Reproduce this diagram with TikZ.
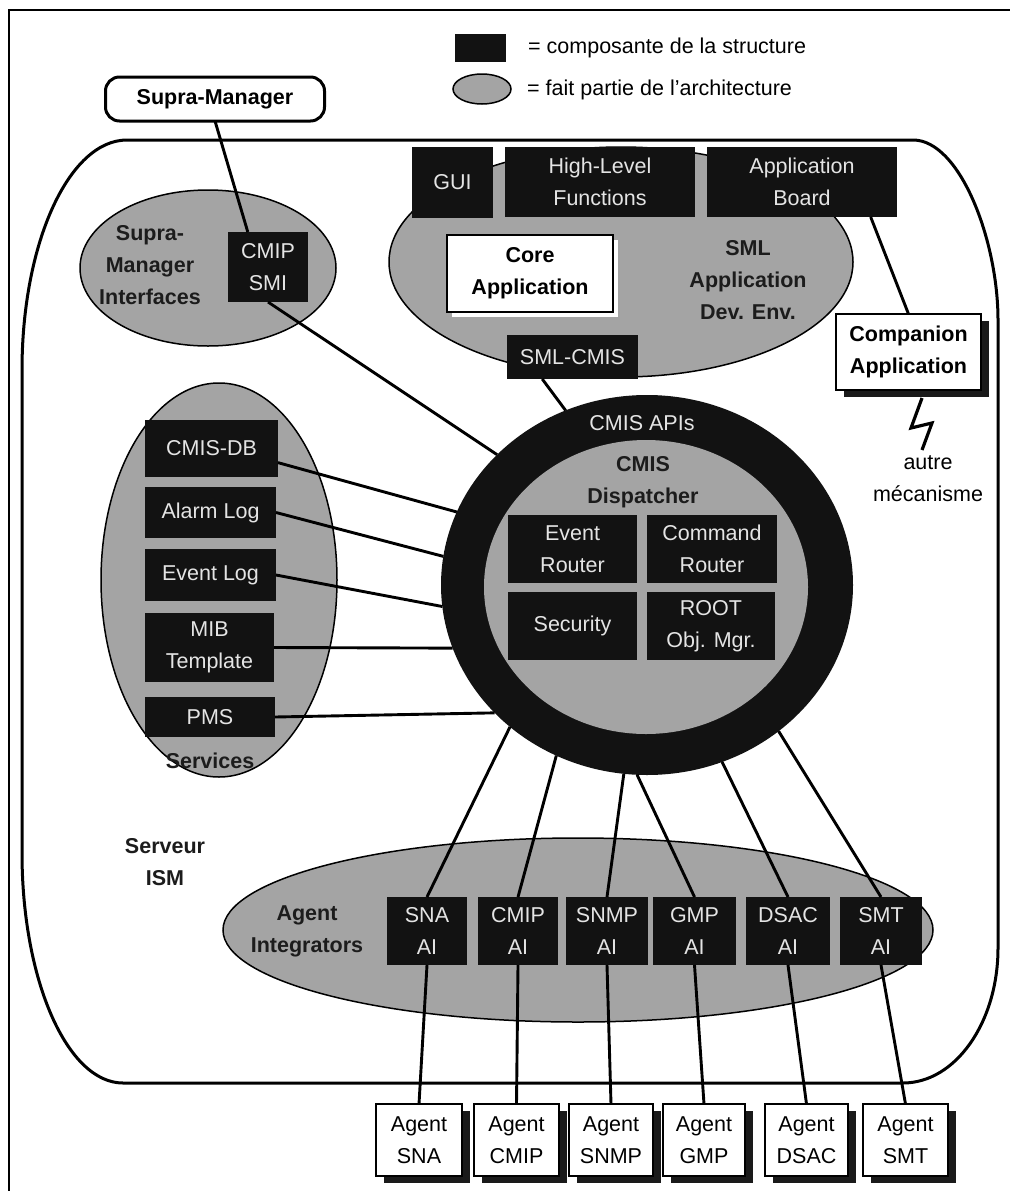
\documentclass[tikz,border=0pt]{standalone}
\usepackage{fontspec}
\setmainfont{Liberation Sans}
\usetikzlibrary{shapes.geometric,shadows}

\definecolor{boxblack}{HTML}{121212}
\definecolor{boxtext}{HTML}{E4E4E4}
\definecolor{patgray}{HTML}{A4A4A4}
\definecolor{labeldark}{HTML}{1C1C1C}
\definecolor{shadowblack}{HTML}{1A1A1A}

\newcommand\regtxt{\fontsize{21.5}{32}\selectfont}
\newcommand\boldtxt{\fontsize{21.5}{32}\selectfont\bfseries}

\tikzset{
  conn/.style={line width=2.9pt, draw=black},
  pat/.style={ellipse, fill=patgray, draw=black, line width=1.5pt, inner sep=0pt, outer sep=0pt},
  blk/.style={rectangle, fill=boxblack, text=boxtext, inner sep=0pt, outer sep=0pt, align=center, font=\regtxt},
  wbox/.style={rectangle, fill=white, draw=black, line width=1.5pt, inner sep=0pt, outer sep=0pt, align=center},
  sz/.style 2 args={minimum width=#1pt, minimum height=#2pt},
  lbl/.style={align=center, text=labeldark, font=\boldtxt, inner sep=0pt},
  plain/.style={align=center, text=black, font=\regtxt, inner sep=0pt},
  darkshadow/.style={drop shadow={shadow xshift=8pt, shadow yshift=-7pt, fill=shadowblack, opacity=1}},
  whiteshadow/.style={drop shadow={shadow xshift=5pt, shadow yshift=-5pt, fill=white, opacity=1}},
}

\begin{document}
\begin{tikzpicture}[x=1pt, y=-1pt]
\useasboundingbox (0,0) rectangle (1010,1191);
\fill[white] (0,0) rectangle (1010,1191);

% page frame
\draw[line width=1.8pt] (9,1191) -- (9,10) -- (1010,10);

% ISM server outline
\draw[line width=3pt]
  (127,140) -- (913,140)
  .. controls (960,140) and (998,240.6) .. (998,320)
  -- (998,948)
  .. controls (998,1022.5) and (955.4,1083) .. (903,1083)
  -- (123,1083)
  .. controls (67.2,1083) and (22,980) .. (22,853)
  -- (22,370)
  .. controls (22,243) and (69,140) .. (127,140) -- cycle;

% legend
\node[blk, sz={51}{28}] (legblk) at (480.5,48) {};
\node[plain, anchor=west] (legblktxt) at (528,48) {= composante de la structure};
\node[pat, sz={58}{30}] (legpat) at (482,89) {};
\node[plain, anchor=west] (legpattxt) at (527,90) {= fait partie de l'architecture};

% supra-manager
\node[draw=black, line width=3pt, rounded corners=14pt, fill=white, sz={219}{44}, inner sep=0pt, outer sep=0pt, font=\boldtxt] (supra) at (215,99) {Supra-Manager};

% grey areas
\node[pat, sz={256}{156}] (smiarea) at (208,268) {};
\node[pat, sz={464}{230}] (smlarea) at (621,262) {};
\node[pat, sz={236}{394}] (servarea) at (219,580) {};
\node[pat, sz={710}{184}] (aiarea) at (578,930) {};

% area labels
\node[lbl] (smilbl) at (150,265) {Supra-\\Manager\\Interfaces};
\node[lbl] (smllbl) at (748,280) {SML\\Application\\Dev. Env.};
\node[lbl] (servlbl) at (210,761) {Services};
\node[lbl] (ailbl) at (307,931) {Agent\\Integrators};
\node[lbl] (ismlbl) at (165,862) {Serveur\\ISM};

% supra-manager interface
\node[blk, sz={80}{70}] (cmipsmi) at (268,267) {CMIP\\SMI};

% SML application environment
\node[blk, sz={81}{71}] (gui) at (452.5,182.5) {GUI};
\node[blk, sz={190}{70}] (hlf) at (600,182) {High-Level\\Functions};
\node[blk, sz={190}{70}] (board) at (802,182) {Application\\Board};
\node[wbox, whiteshadow, sz={166}{77}, font=\boldtxt] (core) at (530,273.5) {Core\\Application};
\node[blk, sz={131}{44}] (smlcmis) at (572.5,357) {SML-CMIS};

% companion application
\node[wbox, darkshadow, sz={145}{76}, font=\boldtxt] (comp) at (908.5,352) {Companion\\Application};
\node[plain] (autre) at (928,479) {autre\\mécanisme};

% services
\node[blk, sz={133}{57}] (cmisdb) at (211.5,448.5) {CMIS-DB};
\node[blk, sz={131}{51}] (alarm) at (210.5,512.5) {Alarm Log};
\node[blk, sz={131}{52}] (evlog) at (210.5,575) {Event Log};
\node[blk, sz={129}{69}] (mib) at (209.5,647.5) {MIB\\Template};
\node[blk, sz={130}{40}] (pms) at (210,717) {PMS};

% CMIS dispatcher ring
\node[ellipse, fill=boxblack, inner sep=0pt, outer sep=0pt, sz={412}{380}] (cmis) at (647,585) {};
\node[ellipse, fill=patgray, inner sep=0pt, outer sep=0pt, sz={324}{294}] (disp) at (646,587) {};
\node[plain, text=boxtext] (apis) at (642,423) {CMIS APIs};
\node[lbl] (displbl) at (643,482) {CMIS\\Dispatcher};
\node[blk, sz={129}{68}] (evrouter) at (572.5,549) {Event\\Router};
\node[blk, sz={130}{68}] (cmdrouter) at (712,549) {Command\\Router};
\node[blk, sz={129}{68}] (security) at (572.5,626) {Security};
\node[blk, sz={128}{68}] (root) at (711,626) {ROOT\\Obj. Mgr.};

% agent integrators
\node[blk, sz={80}{68}] (aisna) at (427,931) {SNA\\AI};
\node[blk, sz={80}{68}] (aicmip) at (518,931) {CMIP\\AI};
\node[blk, sz={82}{68}] (aisnmp) at (607,931) {SNMP\\AI};
\node[blk, sz={83}{68}] (aigmp) at (694.5,931) {GMP\\AI};
\node[blk, sz={84}{68}] (aidsac) at (788,931) {DSAC\\AI};
\node[blk, sz={82}{68}] (aismt) at (881,931) {SMT\\AI};

% agents
\node[wbox, darkshadow, sz={86}{72}, font=\regtxt] (agsna) at (419,1140) {Agent\\SNA};
\node[wbox, darkshadow, sz={85}{72}, font=\regtxt] (agcmip) at (516.5,1140) {Agent\\CMIP};
\node[wbox, darkshadow, sz={84}{72}, font=\regtxt] (agsnmp) at (611,1140) {Agent\\SNMP};
\node[wbox, darkshadow, sz={82}{72}, font=\regtxt] (aggmp) at (704,1140) {Agent\\GMP};
\node[wbox, darkshadow, sz={83}{72}, font=\regtxt] (agdsac) at (806.5,1140) {Agent\\DSAC};
\node[wbox, darkshadow, sz={85}{72}, font=\regtxt] (agsmt) at (905.5,1140) {Agent\\SMT};

% connectors
\draw[conn] (supra.south) -- (cmipsmi.120);
\draw[conn] (cmipsmi.south) -- (cmis.139);
\draw[conn] (smlcmis.216) -- (cmis.115.4);
\draw[conn] (board.-27) -- (comp.north);

\draw[conn] (cmisdb.-12) -- (cmis.159.6);
\draw[conn] (alarm.east) -- (cmis.172.6);
\draw[conn] (evlog.east) -- (cmis.186);
\draw[conn] (mib.east) -- (cmis.198.6);
\draw[conn] (pms.east) -- (cmis.220.1);

\draw[conn] (cmis.226.8) -- (aisna.north);
\draw[conn] (cmis.242.5) -- (aicmip.north);
\draw[conn] (cmis.263.9) -- (aisnmp.north);
\draw[conn] (cmis.267.9) -- (aigmp.north);
\draw[conn] (cmis.293.2) -- (aidsac.north);
\draw[conn] (cmis.312.7) -- (aismt.north);

\draw[conn] (aisna.south) -- (agsna.north);
\draw[conn] (aicmip.south) -- (agcmip.north);
\draw[conn] (aisnmp.south) -- (agsnmp.north);
\draw[conn] (aigmp.south) -- (aggmp.north);
\draw[conn] (aidsac.south) -- (agdsac.north);
\draw[conn] (aismt.south) -- (agsmt.north);

% link to the other mechanism
\coordinate (zzstart) at (922,398);
\draw[conn, line width=3.2pt, line join=miter] (zzstart) -- (911,428) -- (932,423) -- (922,450);
\end{tikzpicture}
\end{document}
